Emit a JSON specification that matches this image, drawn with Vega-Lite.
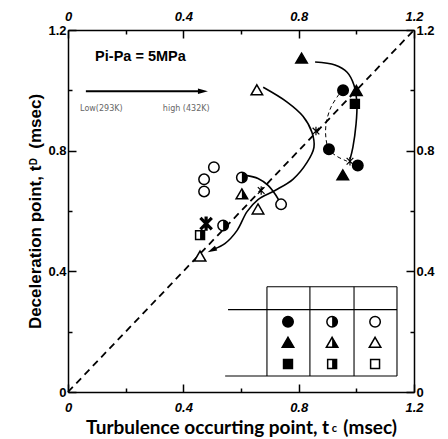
{
  "$schema": "https://vega.github.io/schema/vega-lite/v6.json",
  "width": 346,
  "height": 362,
  "autosize": {"type": "none"},
  "padding": {"left": 68, "top": 30, "right": 34, "bottom": 47},
  "background": "white",
  "config": {
    "view": {"stroke": null},
    "axis": {
      "grid": false,
      "domainColor": "black",
      "domainWidth": 1.5,
      "tickColor": "black",
      "tickWidth": 1.5,
      "labelColor": "black",
      "titleColor": "black",
      "labelFlush": false,
      "labelOverlap": false,
      "labelBound": false
    }
  },
  "datasets": {
    "diagonal": [{"x": 0, "y": 0}, {"x": 1.2, "y": 1.2}],
    "curves": [
      {"curve": "A", "i": 1, "x": 0.677, "y": 1.01},
      {"curve": "A", "i": 2, "x": 0.76, "y": 0.961},
      {"curve": "A", "i": 3, "x": 0.815, "y": 0.914},
      {"curve": "A", "i": 4, "x": 0.846, "y": 0.861},
      {"curve": "A", "i": 5, "x": 0.853, "y": 0.811},
      {"curve": "A", "i": 6, "x": 0.829, "y": 0.761},
      {"curve": "A", "i": 7, "x": 0.78, "y": 0.705},
      {"curve": "A", "i": 8, "x": 0.718, "y": 0.668},
      {"curve": "A", "i": 9, "x": 0.659, "y": 0.638},
      {"curve": "A", "i": 10, "x": 0.621, "y": 0.598},
      {"curve": "A", "i": 11, "x": 0.586, "y": 0.535},
      {"curve": "A", "i": 12, "x": 0.544, "y": 0.492},
      {"curve": "A", "i": 13, "x": 0.507, "y": 0.474},
      {"curve": "B", "i": 1, "x": 0.857, "y": 1.094},
      {"curve": "B", "i": 2, "x": 0.926, "y": 1.084},
      {"curve": "B", "i": 3, "x": 0.968, "y": 1.06},
      {"curve": "B", "i": 4, "x": 0.992, "y": 1.017},
      {"curve": "B", "i": 5, "x": 1.002, "y": 0.954},
      {"curve": "B", "i": 6, "x": 0.999, "y": 0.888},
      {"curve": "B", "i": 7, "x": 0.988, "y": 0.811},
      {"curve": "B", "i": 8, "x": 0.978, "y": 0.771},
      {"curve": "D", "i": 1, "x": 0.617, "y": 0.718},
      {"curve": "D", "i": 2, "x": 0.659, "y": 0.708},
      {"curve": "D", "i": 3, "x": 0.694, "y": 0.685},
      {"curve": "D", "i": 4, "x": 0.721, "y": 0.652},
      {"curve": "D", "i": 5, "x": 0.735, "y": 0.628},
      {"curve": "C", "i": 1, "x": 0.94, "y": 0.987},
      {"curve": "C", "i": 2, "x": 0.912, "y": 0.944},
      {"curve": "C", "i": 3, "x": 0.895, "y": 0.888},
      {"curve": "C", "i": 4, "x": 0.895, "y": 0.838},
      {"curve": "C", "i": 5, "x": 0.905, "y": 0.804},
      {"curve": "C", "i": 6, "x": 0.933, "y": 0.781},
      {"curve": "C", "i": 7, "x": 0.968, "y": 0.765}
    ],
    "arrowLine": [{"x": 0.062, "y": 0.997}, {"x": 0.462, "y": 0.997}],
    "arrowTips": [
      {"arrow": "temperature", "x": 0.468, "y": 0.997},
      {"arrow": "A", "x": 0.499, "y": 0.47}
    ],
    "tableLines": [
      {"x": 0.69, "x2": 1.141, "y": 0.349, "y2": 0.349},
      {"x": 0.555, "x2": 1.141, "y": 0.273, "y2": 0.273},
      {"x": 0.545, "x2": 1.141, "y": 0.053, "y2": 0.053},
      {"x": 0.69, "x2": 0.69, "y": 0.053, "y2": 0.349},
      {"x": 0.839, "x2": 0.839, "y": 0.053, "y2": 0.349},
      {"x": 0.992, "x2": 0.992, "y": 0.053, "y2": 0.349},
      {"x": 1.141, "x2": 1.141, "y": 0.053, "y2": 0.349}
    ],
    "markers": [
      {"x": 0.81, "y": 1.105, "shape": "triangle", "fill": "full"},
      {"x": 0.655, "y": 1.0, "shape": "triangle", "fill": "open"},
      {"x": 0.954, "y": 1.0, "shape": "circle", "fill": "full"},
      {"x": 1.0, "y": 0.998, "shape": "triangle", "fill": "full"},
      {"x": 0.995, "y": 0.955, "shape": "square", "fill": "full"},
      {"x": 0.905, "y": 0.805, "shape": "circle", "fill": "full"},
      {"x": 1.005, "y": 0.751, "shape": "circle", "fill": "full"},
      {"x": 0.953, "y": 0.718, "shape": "triangle", "fill": "full"},
      {"x": 0.603, "y": 0.711, "shape": "circle", "fill": "half"},
      {"x": 0.739, "y": 0.622, "shape": "circle", "fill": "open"},
      {"x": 0.603, "y": 0.655, "shape": "triangle", "fill": "half"},
      {"x": 0.659, "y": 0.605, "shape": "triangle", "fill": "open"},
      {"x": 0.506, "y": 0.745, "shape": "circle", "fill": "open"},
      {"x": 0.472, "y": 0.705, "shape": "circle", "fill": "open"},
      {"x": 0.472, "y": 0.665, "shape": "circle", "fill": "open"},
      {"x": 0.538, "y": 0.552, "shape": "circle", "fill": "half"},
      {"x": 0.458, "y": 0.52, "shape": "square", "fill": "half"},
      {"x": 0.458, "y": 0.449, "shape": "triangle", "fill": "open"},
      {"x": 0.763, "y": 0.233, "shape": "circle", "fill": "full"},
      {"x": 0.763, "y": 0.163, "shape": "triangle", "fill": "full"},
      {"x": 0.763, "y": 0.093, "shape": "square", "fill": "full"},
      {"x": 0.916, "y": 0.233, "shape": "circle", "fill": "half"},
      {"x": 0.916, "y": 0.163, "shape": "triangle", "fill": "half"},
      {"x": 0.916, "y": 0.093, "shape": "square", "fill": "half"},
      {"x": 1.065, "y": 0.233, "shape": "circle", "fill": "open"},
      {"x": 1.065, "y": 0.163, "shape": "triangle", "fill": "open"},
      {"x": 1.065, "y": 0.093, "shape": "square", "fill": "open"}
    ],
    "crossings": [
      {"x": 0.86, "y": 0.865, "weight": "light"},
      {"x": 0.978, "y": 0.765, "weight": "light"},
      {"x": 0.67, "y": 0.668, "weight": "light"},
      {"x": 0.479, "y": 0.558, "weight": "heavy"}
    ],
    "notes": [
      {"x": 0.094, "y": 1.11, "text": "Pi-Pa = 5MPa", "kind": "title"},
      {"x": 0.042, "y": 0.937, "text": "Low(293K)", "kind": "small"},
      {"x": 0.329, "y": 0.937, "text": "high (432K)", "kind": "small"}
    ],
    "subscripts": [
      {"x": 0.924, "y": -0.122, "text": "c", "axis": "x"},
      {"x": -0.118, "y": 0.764, "text": "D", "axis": "y"}
    ]
  },
  "layer": [
    {
      "data": {"name": "diagonal"},
      "mark": {"type": "line", "color": "black", "strokeWidth": 1.8, "strokeDash": [7, 5]},
      "encoding": {
        "x": {
          "field": "x", "type": "quantitative",
          "scale": {"domain": [0, 1.2], "nice": false, "zero": false},
          "axis": {
            "orient": "bottom",
            "values": [0, 0.2, 0.4, 0.6, 0.8, 1, 1.2],
            "labelExpr": "round(datum.value*10) % 4 !== 0 ? '' : (datum.value === 0 ? '0' : format(datum.value, '.1f'))",
            "tickSize": {"condition": {"test": "round(datum.value*10) % 4 === 0", "value": -8}, "value": -4},
            "labelPadding": 17,
            "labelFont": "Liberation Sans", "labelFontSize": 13, "labelFontWeight": "bold", "labelFontStyle": "italic",
            "title": "Turbulence occurting point, t\u2003(msec)",
            "titleFont": "Lato", "titleFontSize": 19, "titleFontWeight": "bold", "titlePadding": 0
          }
        },
        "y": {
          "field": "y", "type": "quantitative",
          "scale": {"domain": [0, 1.2], "nice": false, "zero": false},
          "axis": {
            "orient": "left",
            "values": [0, 0.2, 0.4, 0.6, 0.8, 1, 1.2],
            "labelExpr": "round(datum.value*10) % 4 !== 0 ? '' : (datum.value === 0 ? '0' : format(datum.value, '.1f'))",
            "tickSize": {"condition": {"test": "round(datum.value*10) % 4 === 0", "value": -8}, "value": -4},
            "labelPadding": 10,
            "labelFont": "Liberation Sans", "labelFontSize": 13, "labelFontWeight": "bold",
            "title": "Deceleration point, t\u2003(msec)",
            "titleFont": "Liberation Sans", "titleFontSize": 17, "titleFontWeight": "bold", "titlePadding": 3
          }
        }
      }
    },
    {
      "data": {"name": "curves"},
      "transform": [{"filter": "datum.curve !== 'C'"}],
      "mark": {"type": "line", "color": "black", "strokeWidth": 1.6, "interpolate": "catmull-rom"},
      "encoding": {
        "x": {
          "field": "x", "type": "quantitative",
          "scale": {"domain": [0, 1.2], "nice": false, "zero": false},
          "axis": {
            "orient": "top",
            "values": [0, 0.2, 0.4, 0.6, 0.8, 1, 1.2],
            "labelExpr": "round(datum.value*10) % 4 !== 0 ? '' : (datum.value === 0 ? '0' : format(datum.value, '.1f'))",
            "tickSize": {"condition": {"test": "round(datum.value*10) % 4 === 0", "value": -8}, "value": -4},
            "labelPadding": 15,
            "labelFont": "Liberation Sans", "labelFontSize": 13, "labelFontWeight": "bold", "labelFontStyle": "italic",
            "title": null
          }
        },
        "y": {
          "field": "y", "type": "quantitative",
          "scale": {"domain": [0, 1.2], "nice": false, "zero": false},
          "axis": {
            "orient": "right",
            "values": [0, 0.2, 0.4, 0.6, 0.8, 1, 1.2],
            "labelExpr": "round(datum.value*10) % 4 !== 0 ? '' : (datum.value === 0 ? '0' : format(datum.value, '.1f'))",
            "tickSize": {"condition": {"test": "round(datum.value*10) % 4 === 0", "value": -8}, "value": -4},
            "labelPadding": 10,
            "labelFont": "Liberation Sans", "labelFontSize": 13, "labelFontWeight": "bold",
            "title": null
          }
        },
        "detail": {"field": "curve"},
        "order": {"field": "i", "type": "quantitative"}
      }
    },
    {
      "data": {"name": "curves"},
      "transform": [{"filter": "datum.curve === 'C'"}],
      "mark": {"type": "line", "color": "black", "strokeWidth": 1, "strokeDash": [4, 3], "interpolate": "catmull-rom"},
      "encoding": {
        "x": {"field": "x", "type": "quantitative", "scale": {"domain": [0, 1.2], "nice": false, "zero": false}, "axis": null},
        "y": {"field": "y", "type": "quantitative", "scale": {"domain": [0, 1.2], "nice": false, "zero": false}, "axis": null},
        "order": {"field": "i", "type": "quantitative"}
      }
    },
    {
      "data": {"name": "arrowLine"},
      "mark": {"type": "line", "color": "black", "strokeWidth": 2.2},
      "encoding": {
        "x": {"field": "x", "type": "quantitative", "scale": {"domain": [0, 1.2], "nice": false, "zero": false}, "axis": null},
        "y": {"field": "y", "type": "quantitative", "scale": {"domain": [0, 1.2], "nice": false, "zero": false}, "axis": null}
      }
    },
    {
      "data": {"name": "arrowTips"},
      "transform": [{"filter": "datum.arrow === 'temperature'"}],
      "mark": {"type": "point", "shape": "M0,-1 L0.55,1 L-0.55,1 Z", "filled": true, "color": "black", "size": 100, "angle": 90, "opacity": 1},
      "encoding": {
        "x": {"field": "x", "type": "quantitative", "scale": {"domain": [0, 1.2], "nice": false, "zero": false}, "axis": null},
        "y": {"field": "y", "type": "quantitative", "scale": {"domain": [0, 1.2], "nice": false, "zero": false}, "axis": null}
      }
    },
    {
      "data": {"name": "arrowTips"},
      "transform": [{"filter": "datum.arrow === 'A'"}],
      "mark": {"type": "point", "shape": "M0,-1 L0.55,1 L-0.55,1 Z", "filled": true, "color": "black", "size": 90, "angle": 243, "opacity": 1},
      "encoding": {
        "x": {"field": "x", "type": "quantitative", "scale": {"domain": [0, 1.2], "nice": false, "zero": false}, "axis": null},
        "y": {"field": "y", "type": "quantitative", "scale": {"domain": [0, 1.2], "nice": false, "zero": false}, "axis": null}
      }
    },
    {
      "data": {"name": "tableLines"},
      "mark": {"type": "rule", "color": "black", "strokeWidth": 1.1},
      "encoding": {
        "x": {"field": "x", "type": "quantitative", "scale": {"domain": [0, 1.2], "nice": false, "zero": false}, "axis": null},
        "x2": {"field": "x2"},
        "y": {"field": "y", "type": "quantitative", "scale": {"domain": [0, 1.2], "nice": false, "zero": false}, "axis": null},
        "y2": {"field": "y2"}
      }
    },
    {
      "data": {"name": "markers"},
      "mark": {"type": "point", "filled": true, "fill": "white", "stroke": "black", "strokeWidth": 1.5, "size": 110, "opacity": 1},
      "encoding": {
        "x": {"field": "x", "type": "quantitative", "scale": {"domain": [0, 1.2], "nice": false, "zero": false}, "axis": null},
        "y": {"field": "y", "type": "quantitative", "scale": {"domain": [0, 1.2], "nice": false, "zero": false}, "axis": null},
        "shape": {
          "field": "shape", "type": "nominal", "legend": null,
          "scale": {
            "domain": ["circle", "triangle", "square"],
            "range": [
              "M1,0 A1,1 0 1,1 -1,0 A1,1 0 1,1 1,0 Z",
              "M0,-1.05 L1.1,0.85 L-1.1,0.85 Z",
              "M-0.85,-0.85 L0.85,-0.85 L0.85,0.85 L-0.85,0.85 Z"
            ]
          }
        }
      }
    },
    {
      "data": {"name": "markers"},
      "transform": [{"filter": "datum.fill === 'full'"}],
      "mark": {"type": "point", "filled": true, "fill": "black", "strokeWidth": 0, "size": 110, "opacity": 1},
      "encoding": {
        "x": {"field": "x", "type": "quantitative", "scale": {"domain": [0, 1.2], "nice": false, "zero": false}, "axis": null},
        "y": {"field": "y", "type": "quantitative", "scale": {"domain": [0, 1.2], "nice": false, "zero": false}, "axis": null},
        "shape": {
          "field": "shape", "type": "nominal", "legend": null,
          "scale": {
            "domain": ["circle", "triangle", "square"],
            "range": [
              "M1,0 A1,1 0 1,1 -1,0 A1,1 0 1,1 1,0 Z",
              "M0,-1.05 L1.1,0.85 L-1.1,0.85 Z",
              "M-0.85,-0.85 L0.85,-0.85 L0.85,0.85 L-0.85,0.85 Z"
            ]
          }
        }
      }
    },
    {
      "data": {"name": "markers"},
      "transform": [{"filter": "datum.fill === 'half'"}],
      "mark": {"type": "point", "filled": true, "fill": "black", "strokeWidth": 0, "size": 110, "opacity": 1},
      "encoding": {
        "x": {"field": "x", "type": "quantitative", "scale": {"domain": [0, 1.2], "nice": false, "zero": false}, "axis": null},
        "y": {"field": "y", "type": "quantitative", "scale": {"domain": [0, 1.2], "nice": false, "zero": false}, "axis": null},
        "shape": {
          "field": "shape", "type": "nominal", "legend": null,
          "scale": {
            "domain": ["circle", "triangle", "square"],
            "range": [
              "M0,-1 A1,1 0 0,1 0,1 Z",
              "M0,-1.05 L1.1,0.85 L0,0.85 Z",
              "M0,-0.85 L0.85,-0.85 L0.85,0.85 L0,0.85 Z"
            ]
          }
        }
      }
    },
    {
      "data": {"name": "crossings"},
      "mark": {"type": "point", "shape": "M-1,-1 L1,1 M-1,1 L1,-1 M0,-1.25 L0,1.25", "filled": false, "color": "black", "opacity": 1},
      "encoding": {
        "x": {"field": "x", "type": "quantitative", "scale": {"domain": [0, 1.2], "nice": false, "zero": false}, "axis": null},
        "y": {"field": "y", "type": "quantitative", "scale": {"domain": [0, 1.2], "nice": false, "zero": false}, "axis": null},
        "size": {"field": "weight", "type": "nominal", "legend": null, "scale": {"domain": ["light", "heavy"], "range": [45, 130]}},
        "strokeWidth": {"field": "weight", "type": "nominal", "legend": null, "scale": {"domain": ["light", "heavy"], "range": [1.2, 3.2]}}
      }
    },
    {
      "data": {"name": "notes"},
      "transform": [{"filter": "datum.kind === 'title'"}],
      "mark": {"type": "text", "align": "left", "baseline": "middle", "font": "Liberation Sans", "fontSize": 14.5, "fontWeight": "bold", "color": "black"},
      "encoding": {
        "x": {"field": "x", "type": "quantitative", "scale": {"domain": [0, 1.2], "nice": false, "zero": false}, "axis": null},
        "y": {"field": "y", "type": "quantitative", "scale": {"domain": [0, 1.2], "nice": false, "zero": false}, "axis": null},
        "text": {"field": "text"}
      }
    },
    {
      "data": {"name": "notes"},
      "transform": [{"filter": "datum.kind === 'small'"}],
      "mark": {"type": "text", "align": "left", "baseline": "middle", "font": "DejaVu Sans", "fontSize": 8, "color": "#666"},
      "encoding": {
        "x": {"field": "x", "type": "quantitative", "scale": {"domain": [0, 1.2], "nice": false, "zero": false}, "axis": null},
        "y": {"field": "y", "type": "quantitative", "scale": {"domain": [0, 1.2], "nice": false, "zero": false}, "axis": null},
        "text": {"field": "text"}
      }
    },
    {
      "data": {"name": "subscripts"},
      "transform": [{"filter": "datum.axis === 'x'"}],
      "mark": {"type": "text", "align": "center", "baseline": "middle", "font": "Lato", "fontSize": 11, "fontWeight": "bold", "color": "black"},
      "encoding": {
        "x": {"field": "x", "type": "quantitative", "scale": {"domain": [0, 1.2], "nice": false, "zero": false}, "axis": null},
        "y": {"field": "y", "type": "quantitative", "scale": {"domain": [0, 1.2], "nice": false, "zero": false}, "axis": null},
        "text": {"field": "text"}
      }
    },
    {
      "data": {"name": "subscripts"},
      "transform": [{"filter": "datum.axis === 'y'"}],
      "mark": {"type": "text", "align": "center", "baseline": "middle", "angle": 270, "font": "Liberation Sans", "fontSize": 10, "fontWeight": "bold", "color": "black"},
      "encoding": {
        "x": {"field": "x", "type": "quantitative", "scale": {"domain": [0, 1.2], "nice": false, "zero": false}, "axis": null},
        "y": {"field": "y", "type": "quantitative", "scale": {"domain": [0, 1.2], "nice": false, "zero": false}, "axis": null},
        "text": {"field": "text"}
      }
    }
  ],
  "resolve": {
    "axis": {"x": "independent", "y": "independent"},
    "scale": {"shape": "independent", "size": "independent", "strokeWidth": "independent"}
  }
}
